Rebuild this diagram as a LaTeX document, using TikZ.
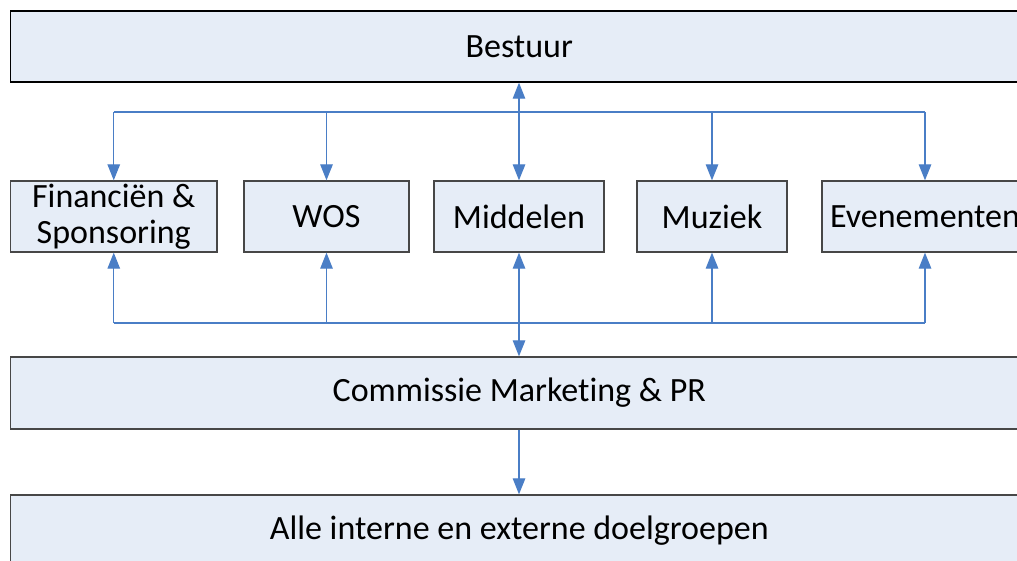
\documentclass[tikz,border=0pt]{standalone}
\usepackage{fontspec}
\setmainfont{Carlito}[Ligatures=CommonOff]
\usetikzlibrary{arrows.meta}
\definecolor{boxfill}{RGB}{230,237,247}
\definecolor{conncol}{RGB}{74,126,198}
\begin{document}
\begin{tikzpicture}[x=1pt,y=-1pt,
  box/.style={draw=black!72,line width=1.3pt,fill=boxfill,inner sep=0pt,align=center,
    font=\fontsize{34}{36.5}\selectfont,text=black},
  conn/.style={draw=conncol,line width=1.2pt},
  tip/.style={conn,-{Triangle[length=16pt,width=12.5pt]}},
  both/.style={conn,{Triangle[length=16pt,width=12.5pt]}-{Triangle[length=16pt,width=12.5pt]}}]
\useasboundingbox (0,0) rectangle (1017,560);
\clip (0,0) rectangle (1017,560);
\fill[white] (0,0) rectangle (1017,560);
\node[box,draw=black,line width=1.4pt,minimum width=1017.5pt,minimum height=71pt] (bestuur) at (519.25,46.5) {Bestuur};
\node[box,minimum width=206.5pt,minimum height=71pt] (fin) at (113.75,216.5) {Financiën \&\\Sponsoring};
\node[box,minimum width=165pt,minimum height=71pt] (wos) at (326.5,216.5) {WOS};
\node[box,minimum width=170pt,minimum height=71pt] (mid) at (519,216.5) {Middelen};
\node[box,minimum width=150pt,minimum height=71pt] (muz) at (712,216.5) {Muziek};
\node[box,minimum width=206pt,minimum height=71pt] (eve) at (925,216.5) {Evenementen};
\node[box,minimum width=1017.5pt,minimum height=72pt] (com) at (519.25,393) {Commissie Marketing \& PR};
\node[box,minimum width=1017.5pt,minimum height=71pt] (alle) at (519.25,530.5) {Alle interne en externe doelgroepen};
\coordinate (tbus) at (519,112);
\coordinate (bbus) at (519,323);
% top bus
\draw[conn] (fin.north |- tbus) -- (eve.north |- tbus);
\draw[tip] (fin.north |- tbus) -- (fin.north);
\draw[tip] (wos.north |- tbus) -- (wos.north);
\draw[tip] (muz.north |- tbus) -- (muz.north);
\draw[tip] (eve.north |- tbus) -- (eve.north);
\draw[both] (bestuur.south -| mid.north) -- (mid.north);
% bottom bus
\draw[conn] (fin.south |- bbus) -- (eve.south |- bbus);
\draw[tip] (fin.south |- bbus) -- (fin.south);
\draw[tip] (wos.south |- bbus) -- (wos.south);
\draw[tip] (muz.south |- bbus) -- (muz.south);
\draw[tip] (eve.south |- bbus) -- (eve.south);
\draw[both] (mid.south) -- (com.north -| mid.south);
\draw[tip] (com.south -| mid.south) -- (alle.north -| mid.south);
\end{tikzpicture}
\end{document}
